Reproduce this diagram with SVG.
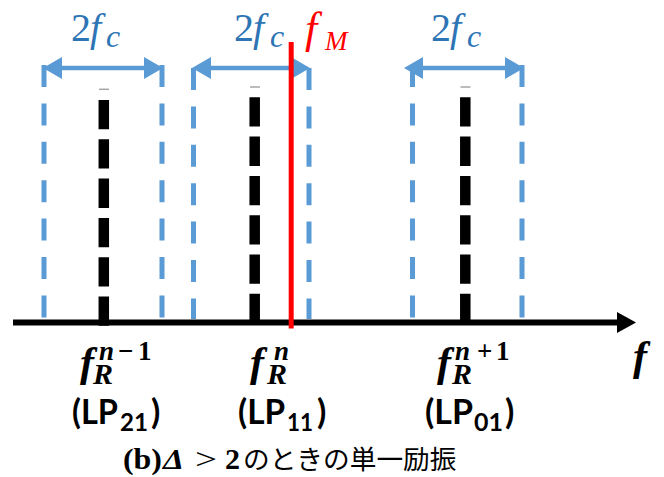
<svg xmlns="http://www.w3.org/2000/svg" width="664" height="477" viewBox="0 0 664 477">
<defs>
<style>
.bdash{stroke:#5B9BD5;stroke-width:5;stroke-dasharray:22 16.4;fill:none}
.kdash{stroke:#000;stroke-width:10.5;stroke-dasharray:29.3 10;fill:none}
.tick{stroke:#a6a6a6;stroke-width:1.5}
.span{stroke:#5B9BD5;stroke-width:4.5;marker-start:url(#bh);marker-end:url(#bh)}
.bl{font-family:"Liberation Serif","DejaVu Serif",serif;fill:#2E75B6}
.it{font-style:italic}
.fr{font-family:"Liberation Serif","DejaVu Serif",serif;font-weight:bold;fill:#000}
.lp{font-family:Lato,"Open Sans","Liberation Sans",sans-serif;font-weight:bold;fill:#000}
</style>
<marker id="bh" markerUnits="userSpaceOnUse" markerWidth="20" markerHeight="24" viewBox="0 0 20 24" refX="9" refY="12" orient="auto-start-reverse">
<path d="M0,1 L19,12 L0,23 z" fill="#5B9BD5"/>
</marker>
<marker id="ah" markerUnits="userSpaceOnUse" markerWidth="20" markerHeight="22" viewBox="0 0 20 22" refX="2" refY="11" orient="auto">
<path d="M0,0.5 L19,11 L0,21.5 z" fill="#000"/>
</marker>
</defs>
<rect width="664" height="477" fill="#fff"/>

<g id="connectors">
<line x1="13" y1="322.5" x2="619" y2="322.5" stroke="#000" stroke-width="6" marker-end="url(#ah)"/>
</g>

<g id="band-n-1">
<line class="bdash" x1="44" y1="65" x2="44" y2="319"/>
<line class="bdash" x1="162" y1="65" x2="162" y2="319"/>
<line class="span" x1="53" y1="68" x2="153" y2="68"/>
<line class="tick" x1="99" y1="89.3" x2="109" y2="89.3"/>
<line class="kdash" x1="103.8" y1="100" x2="103.8" y2="326"/>
<text class="bl" font-size="40"><tspan x="71" y="41">2</tspan><tspan class="it" x="90" y="41">f</tspan><tspan class="it" x="106" y="47" font-size="32">c</tspan></text>
<text class="fr"><tspan class="it" font-size="42" x="80" y="376">f</tspan><tspan class="it" font-size="30" x="93" y="384">R</tspan><tspan class="it" font-size="27" x="99" y="360">n</tspan><tspan font-size="27" x="118" y="360">−</tspan><tspan font-size="27" x="138" y="360">1</tspan></text>
<text class="lp" font-size="34" y="424" x="72" textLength="46" lengthAdjust="spacingAndGlyphs">(LP</text>
<text class="lp" font-size="25" y="431" x="120" textLength="28" lengthAdjust="spacingAndGlyphs">21</text>
<text class="lp" font-size="34" y="424" x="151">)</text>
</g>

<g id="band-n">
<line class="bdash" x1="193.5" y1="68" x2="193.5" y2="319"/>
<line class="bdash" x1="309" y1="68" x2="309" y2="319"/>
<line class="span" x1="202" y1="68" x2="300" y2="68"/>
<line class="tick" x1="250" y1="87" x2="260" y2="87"/>
<line class="kdash" x1="254.7" y1="97.3" x2="254.7" y2="320"/>
<text class="bl" font-size="40"><tspan x="234" y="41">2</tspan><tspan class="it" x="253" y="41">f</tspan><tspan class="it" x="270" y="47" font-size="32">c</tspan></text>
<text class="fr"><tspan class="it" font-size="42" x="250" y="376">f</tspan><tspan class="it" font-size="30" x="267" y="384">R</tspan><tspan class="it" font-size="27" x="274" y="360">n</tspan></text>
<text class="lp" font-size="34" y="424" x="238" textLength="47" lengthAdjust="spacingAndGlyphs">(LP</text>
<text class="lp" font-size="25" y="431" x="287" textLength="26" lengthAdjust="spacingAndGlyphs">11</text>
<text class="lp" font-size="34" y="424" x="317">)</text>
</g>

<g id="band-n+1">
<line class="bdash" x1="412.5" y1="65" x2="412.5" y2="319"/>
<line class="bdash" x1="522" y1="65" x2="522" y2="319"/>
<line class="span" x1="414" y1="68" x2="514" y2="68"/>
<line class="tick" x1="460.5" y1="87" x2="470.5" y2="87"/>
<line class="kdash" x1="465.3" y1="97.3" x2="465.3" y2="320"/>
<text class="bl" font-size="40"><tspan x="431" y="41">2</tspan><tspan class="it" x="450" y="41">f</tspan><tspan class="it" x="467" y="47" font-size="32">c</tspan></text>
<text class="fr"><tspan class="it" font-size="42" x="437" y="376">f</tspan><tspan class="it" font-size="30" x="452" y="384">R</tspan><tspan class="it" font-size="27" x="455" y="360">n</tspan><tspan font-size="27" x="477" y="360">+</tspan><tspan font-size="27" x="496" y="360">1</tspan></text>
<text class="lp" font-size="34" y="424" x="425" textLength="48" lengthAdjust="spacingAndGlyphs">(LP</text>
<text class="lp" font-size="25" y="431" x="474" textLength="29" lengthAdjust="spacingAndGlyphs">01</text>
<text class="lp" font-size="34" y="424" x="505">)</text>
</g>

<g id="fM">
<line x1="291.2" y1="42" x2="291.2" y2="328.5" stroke="#FF0000" stroke-width="5"/>
<text font-family="Liberation Serif, DejaVu Serif, serif" font-style="italic" fill="#FF0000"><tspan font-size="44" x="305" y="43">f</tspan><tspan font-size="27" x="325" y="50">M</tspan></text>
</g>

<g id="axis-label">
<text class="fr it" font-size="42" x="633" y="370">f</text>
</g>

<g id="caption">
<text font-family="Liberation Serif, 'Noto Sans CJK JP', serif" font-size="30" fill="#000" y="469"><tspan x="123" font-weight="bold" textLength="39" lengthAdjust="spacingAndGlyphs">(b)</tspan><tspan x="163" font-weight="bold" font-style="italic" textLength="21" lengthAdjust="spacingAndGlyphs">Δ</tspan><tspan x="195" textLength="22" lengthAdjust="spacingAndGlyphs">&gt;</tspan><tspan x="225" font-weight="bold">2</tspan><tspan x="243" font-family="'Noto Sans CJK JP', sans-serif" font-size="26.7">のときの単一励振</tspan></text>
</g>
</svg>
